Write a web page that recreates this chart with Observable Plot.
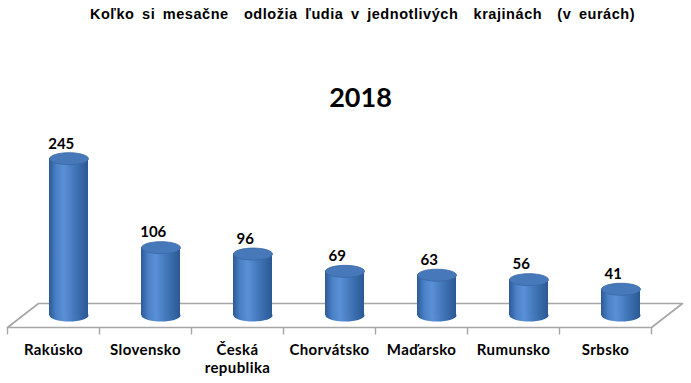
<!DOCTYPE html>
<html>
<head>
<meta charset="utf-8">
<script src="https://cdn.jsdelivr.net/npm/d3@7"></script>
<script src="https://cdn.jsdelivr.net/npm/@observablehq/plot@0.6"></script>
<style>
  html, body { margin: 0; padding: 0; background: #fff; }
  #chart svg { display: block; }
</style>
</head>
<body>
<svg style="position:absolute;width:0;height:0" aria-hidden="true">
  <defs>
    <linearGradient id="cylGrad" x1="0" y1="0" x2="1" y2="0">
      <stop offset="0" stop-color="#2B5A96"/>
      <stop offset="0.18" stop-color="#4A80C6"/>
      <stop offset="0.38" stop-color="#5A90D6"/>
      <stop offset="0.65" stop-color="#4277BA"/>
      <stop offset="1" stop-color="#2A5893"/>
    </linearGradient>
  </defs>
</svg>
<div id="chart"></div>
<script>
const chartTitle = "Koľko si mesačne  odložia ľudia v jednotlivých  krajinách  (v eurách)";
const yearLabel = "2018";
const categories = ["Rakúsko", "Slovensko", "Česká\nrepublika", "Chorvátsko", "Maďarsko", "Rumunsko", "Srbsko"];
const values = [245, 106, 96, 69, 63, 56, 41];

const W = 691, H = 383;
const mL = 7, mR = 40, mB = 56, mT = 167;
const yMax = 250;
const n = categories.length;
const pxX = (W - mL - mR) / n;            // px per category
const pxY = (H - mB - mT) / yMax;         // px per value unit
// 3D floor depth (pixels) converted to data units
const depthPxX = 31, depthPxY = 24;
const dX = depthPxX / pxX, dY = depthPxY / pxY;
const cylHalfPx = 19.5, ellRy = 6;
const cylHalf = cylHalfPx / pxX;

const data = categories.map((c, i) => ({i, c, v: values[i]}));

function ellipseSymbol(rx, ry) {
  const k = 0.5523;
  return {
    draw(ctx) {
      ctx.moveTo(rx, 0);
      ctx.bezierCurveTo(rx, ry * k, rx * k, ry, 0, ry);
      ctx.bezierCurveTo(-rx * k, ry, -rx, ry * k, -rx, 0);
      ctx.bezierCurveTo(-rx, -ry * k, -rx * k, -ry, 0, -ry);
      ctx.bezierCurveTo(rx * k, -ry, rx, -ry * k, rx, 0);
      ctx.closePath();
    }
  };
}
const ell = ellipseSymbol(cylHalfPx, ellRy);

const floor = [[0, 0], [n, 0], [n + dX, dY], [dX, dY], [0, 0]];
const tickPos = d3.range(n + 1);
const cx = d => d.i + 0.5 + dX / 2;
const baseY = dY / 2;

const chart = Plot.plot({
  width: W, height: H,
  marginLeft: mL, marginRight: mR, marginTop: mT, marginBottom: mB,
  x: {domain: [0, n], axis: null},
  y: {domain: [0, yMax], axis: null},
  style: {fontFamily: "Lato, sans-serif", background: "#fff"},
  marks: [
    Plot.line(floor, {x: d => d[0], y: d => d[1], stroke: "#A6A6A6", strokeWidth: 1.6}),
    Plot.link(tickPos, {x1: d => d, x2: d => d, y1: 0, y2: -7 / pxY, stroke: "#A6A6A6", strokeWidth: 1.4}),
    Plot.dot(data, {x: cx, y: baseY, symbol: ell, fill: "url(#cylGrad)", stroke: "none"}),
    Plot.rect(data, {x1: d => cx(d) - cylHalf, x2: d => cx(d) + cylHalf, y1: baseY, y2: d => d.v + baseY, fill: "url(#cylGrad)"}),
    Plot.dot(data, {x: cx, y: d => d.v + baseY, symbol: ell, fill: "#4779BA", stroke: "#3867A6", strokeWidth: 0.8}),
    Plot.text(data, {x: d => d.i + 0.5 + dX / 4, y: d => d.v + baseY, dy: -15, text: d => String(d.v), fontSize: 15, fontWeight: "bold", fill: "#000"}),
    Plot.text(data, {x: d => d.i + 0.5, y: 0, dy: 15, text: "c", lineAnchor: "top", lineHeight: 1.2, fontSize: 15, fontWeight: "bold", fill: "#000", className: "catlab"}),
    Plot.text([yearLabel], {frameAnchor: "top", dx: 31, dy: -80, text: d => d, fontSize: 27, fontWeight: "bold", fill: "#000"}),
    Plot.text([chartTitle], {frameAnchor: "top", dx: 33, dy: -159, text: d => d, fontSize: 14.5, fontWeight: "bold", fill: "#000", fontFamily: "Liberation Sans, Arial, sans-serif", className: "ttl"})
  ]
});
chart.querySelectorAll(".ttl text").forEach(t => { t.style.letterSpacing = "0.55px"; t.style.wordSpacing = "3px"; });
chart.querySelectorAll(".catlab text").forEach(t => { t.style.letterSpacing = "0.4px"; });
document.getElementById("chart").append(chart);
</script>
</body>
</html>
